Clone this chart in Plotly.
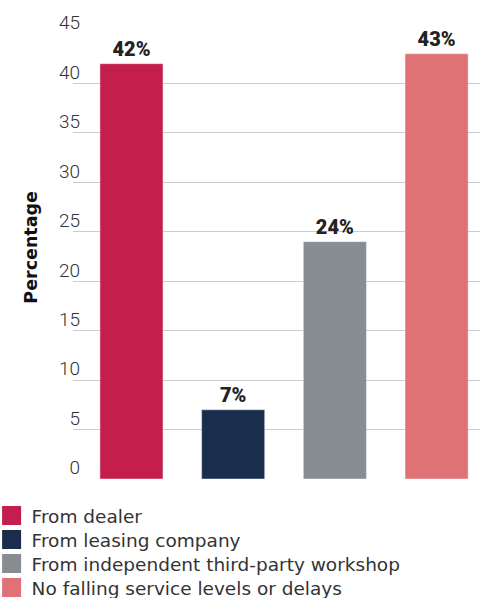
import plotly.graph_objects as go

categories = ["From dealer", "From leasing company", "From independent third-party workshop", "No falling service levels or delays"]
values = [42, 7, 24, 43]
colors = ["#C41E4C", "#1A2D4C", "#878D90", "#E07275"]
y_ticks = [0, 5, 10, 15, 20, 25, 30, 35, 40, 45]

legend_ids = ["legend", "legend2", "legend3", "legend4"]

fig = go.Figure()
for i, (c, v, col) in enumerate(zip(categories, values, colors)):
    fig.add_trace(go.Bar(
        x=[i], y=[v], width=0.62, marker_color=col, showlegend=False,
        text=[f"{v}%"], textposition="outside", cliponaxis=False,
        textfont=dict(family="Roboto", size=20, color="#222222", weight=900),
    ))
for c, col, lid in zip(categories, colors, legend_ids):
    fig.add_trace(go.Scatter(
        x=[None], y=[None], mode="markers", name=c, legend=lid,
        marker=dict(symbol="square", size=16, color=col, line=dict(width=3, color=col)),
    ))

fig.add_annotation(
    text="Percentage", textangle=-90, xref="paper", yref="paper",
    x=-0.103, y=0.52, xanchor="center", yanchor="middle", showarrow=False,
    font=dict(family="DejaVu Sans", size=17.5, color="#111111", weight="bold"),
)

legend_common = dict(x=-0.20, xanchor="left", yanchor="middle",
                     font=dict(family="DejaVu Sans", size=18.5, color="#333333"),
                     itemwidth=30, bgcolor="rgba(0,0,0,0)")
row_y = [-0.0831, -0.137, -0.191, -0.245]

fig.update_layout(
    width=480, height=598,
    margin=dict(l=73, r=0, t=34, b=119, autoexpand=False),
    plot_bgcolor="white", paper_bgcolor="white",
    barmode="overlay",
    font=dict(family="Roboto", color="#333333"),
    xaxis=dict(range=[-0.575, 3.427], showticklabels=False, showgrid=False,
               zeroline=False, fixedrange=True, automargin=False),
    yaxis=dict(range=[0, 45], tickvals=y_ticks, showgrid=True, gridcolor="#CCCCCC",
               gridwidth=1, zeroline=False, ticklabelposition="outside top",
               ticklabelstandoff=-8, ticklabelshift=2, automargin=False,
               tickfont=dict(family="Roboto", size=19, color="#333333", weight=300)),
    showlegend=True,
)
for lid, ry in zip(legend_ids, row_y):
    fig.update_layout({lid: dict(legend_common, y=ry)})

fig.write_html("out.html", config={"displayModeBar": False},
               post_script="document.body.style.margin='0';")
